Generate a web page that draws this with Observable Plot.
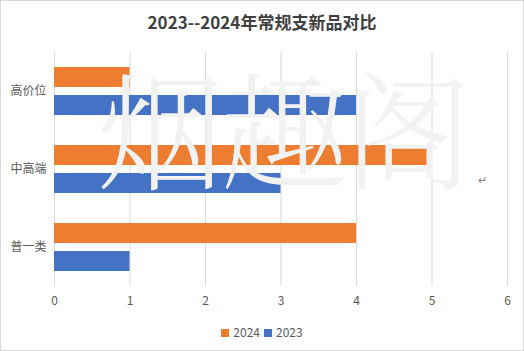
<!DOCTYPE html>
<html>
<head>
<meta charset="utf-8">
<script src="https://cdn.jsdelivr.net/npm/d3@7"></script>
<script src="https://cdn.jsdelivr.net/npm/@observablehq/plot@0.6"></script>
<style>
  body { margin: 0; background: #fff; }
  #wrap { position: relative; width: 524px; height: 351px; box-sizing: border-box; border: 1px solid #d9d9d9; background: #fff; font-family: "Noto Sans CJK SC", "Noto Sans", sans-serif; overflow: hidden; }
  #title { height: 40px; line-height: 42px; text-align: center; font-size: 17px; font-weight: bold; color: #404040; }
  #legend { position: absolute; left: 0; right: 0; top: 322px; text-align: center; font-size: 12px; color: #595959; }
  #legend span.sw { display: inline-block; width: 8px; height: 8px; margin-right: 4px; vertical-align: 0px; }
  #legend span.it { margin: 0 2px; }
  #wm { position: absolute; left: 96px; top: 44px; font-size: 127px; line-height: 160px; color: #f2f2f2; letter-spacing: -3px; pointer-events: none; font-family: "Noto Serif CJK SC", "Noto Sans CJK SC", serif; font-weight: 300; white-space: nowrap; }
  #mark { position: absolute; left: 477px; top: 170px; font-size: 11px; color: #7f7f7f; }
</style>
</head>
<body>
<div id="wrap">
  <div id="title"></div>
  <div id="chart"></div>
  <div id="wm">烟趣阁</div>
  <div id="mark">↵</div>
  <div id="legend"></div>
</div>
<script>
const titleText = "2023--2024年常规支新品对比";
const categories = ["高价位", "中高端", "普一类"];
const seriesNames = ["2024", "2023"];
const values2024 = [1, 5, 4];
const values2023 = [4, 3, 1];
const xTicks = [0, 1, 2, 3, 4, 5, 6];
const colors = ["#ED7D31", "#4472C4"];

const data = [];
categories.forEach((c, i) => {
  data.push({category: c, series: "2024", value: values2024[i]});
  data.push({category: c, series: "2023", value: values2023[i]});
});

document.getElementById("title").textContent = titleText;

const chart = Plot.plot({
  width: 522,
  height: 270,
  marginLeft: 53,
  marginRight: 16,
  marginTop: 11,
  marginBottom: 25,
  style: {fontFamily: "'Noto Sans CJK SC', 'Noto Sans', sans-serif", fontSize: "12px", color: "#595959", background: "transparent"},
  x: {domain: [0, 6], ticks: xTicks, tickFormat: d3.format("d"), tickSize: 0, tickPadding: 10, label: null},
  fy: {domain: categories, padding: 0, label: null, tickSize: 0, tickPadding: 8},
  y: {domain: seriesNames, paddingInner: 0.276, paddingOuter: 0.483, axis: null},
  color: {domain: seriesNames, range: colors},
  marks: [
    Plot.gridX(xTicks, {stroke: "#d9d9d9", strokeOpacity: 1, strokeWidth: 1}),
    Plot.barX(data, {fy: "category", y: "series", x: "value", fill: "series"})
  ]
});
document.getElementById("chart").appendChild(chart);
chart.querySelectorAll("text").forEach(t => t.setAttribute("fill", "#595959"));

const lg = document.getElementById("legend");
seriesNames.forEach((s, i) => {
  const it = document.createElement("span");
  it.className = "it";
  const sw = document.createElement("span");
  sw.className = "sw";
  sw.style.background = colors[i];
  it.appendChild(sw);
  it.appendChild(document.createTextNode(s));
  lg.appendChild(it);
});
</script>
</body>
</html>
